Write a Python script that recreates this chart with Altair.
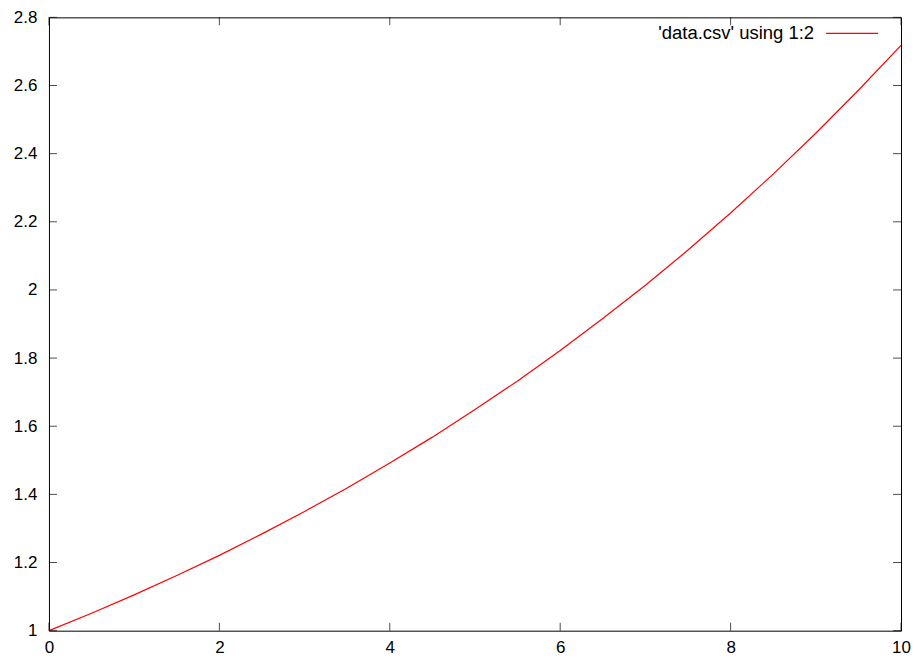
import altair as alt
import pandas as pd

# curve values
xs = [0, 0.5, 1, 1.5, 2, 2.5, 3, 3.5, 4, 4.5, 5, 5.5, 6, 6.5, 7, 7.5, 8, 8.5, 9, 9.5, 10]
ys = [1.000, 1.051, 1.105, 1.162, 1.221, 1.284, 1.350, 1.419, 1.492, 1.568, 1.649,
      1.733, 1.822, 1.916, 2.014, 2.117, 2.226, 2.340, 2.460, 2.586, 2.718]

x_ticks = [0, 2, 4, 6, 8, 10]
y_ticks = [1, 1.2, 1.4, 1.6, 1.8, 2, 2.2, 2.4, 2.6, 2.8]
legend_label = "'data.csv' using 1:2"

FONT = "Liberation Sans"
FS = 17
W, H = 853, 614

df = pd.DataFrame({"x": xs, "y": ys})
xt = pd.DataFrame({"x": x_ticks, "ylo": [1] * len(x_ticks), "yhi": [2.8] * len(x_ticks)})
yt = pd.DataFrame({"y": y_ticks, "xlo": [0] * len(y_ticks), "xhi": [10] * len(y_ticks)})

xscale = alt.Scale(domain=[0, 10], nice=False, zero=False)
yscale = alt.Scale(domain=[1, 2.8], nice=False, zero=False)

xaxis = alt.Axis(values=x_ticks, title=None, tickSize=0, domain=False, grid=False,
                 labelFont=FONT, labelFontSize=FS, labelColor="black", labelPadding=9,
                 labelFlush=False, format="d")
yaxis = alt.Axis(values=y_ticks, title=None, tickSize=0, domain=False, grid=False,
                 labelFont=FONT, labelFontSize=FS, labelColor="black", labelPadding=12,
                 labelFlush=False,
                 labelExpr="datum.value == 1 ? '1' : datum.value == 2 ? '2' : format(datum.value, '.1f')")

line = alt.Chart(df).mark_line(color="#ff0000", strokeWidth=1.2).encode(
    x=alt.X("x:Q", scale=xscale, axis=xaxis),
    y=alt.Y("y:Q", scale=yscale, axis=yaxis),
)

tick_style = dict(color="black", thickness=1, size=8)
bottom_ticks = alt.Chart(xt).mark_tick(orient="vertical", yOffset=-4, **tick_style).encode(
    x=alt.X("x:Q", scale=xscale), y=alt.Y("ylo:Q", scale=yscale))
top_ticks = alt.Chart(xt).mark_tick(orient="vertical", yOffset=4, **tick_style).encode(
    x=alt.X("x:Q", scale=xscale), y=alt.Y("yhi:Q", scale=yscale))
left_ticks = alt.Chart(yt).mark_tick(orient="horizontal", xOffset=4, **tick_style).encode(
    y=alt.Y("y:Q", scale=yscale), x=alt.X("xlo:Q", scale=xscale))
right_ticks = alt.Chart(yt).mark_tick(orient="horizontal", xOffset=-4, **tick_style).encode(
    y=alt.Y("y:Q", scale=yscale), x=alt.X("xhi:Q", scale=xscale))

leg_text = alt.Chart(pd.DataFrame({"t": [legend_label]})).mark_text(
    font=FONT, fontSize=18.5, align="right", baseline="middle", color="black"
).encode(x=alt.value(766), y=alt.value(16), text="t:N")
leg_line = alt.Chart(pd.DataFrame({"a": [0]})).mark_rule(color="#ff0000", strokeWidth=1.2).encode(
    x=alt.value(778), x2=alt.value(830), y=alt.value(16))

chart = alt.layer(line, bottom_ticks, top_ticks, left_ticks, right_ticks, leg_text, leg_line).properties(
    width=W, height=H,
    autosize=alt.AutoSizeParams(type="none"),
    padding={"left": 41, "top": 9, "right": 10, "bottom": 32},
    background="white",
).configure_view(stroke="black", strokeWidth=1)

chart.save("out.html", embed_options={"renderer": "svg", "actions": False})
